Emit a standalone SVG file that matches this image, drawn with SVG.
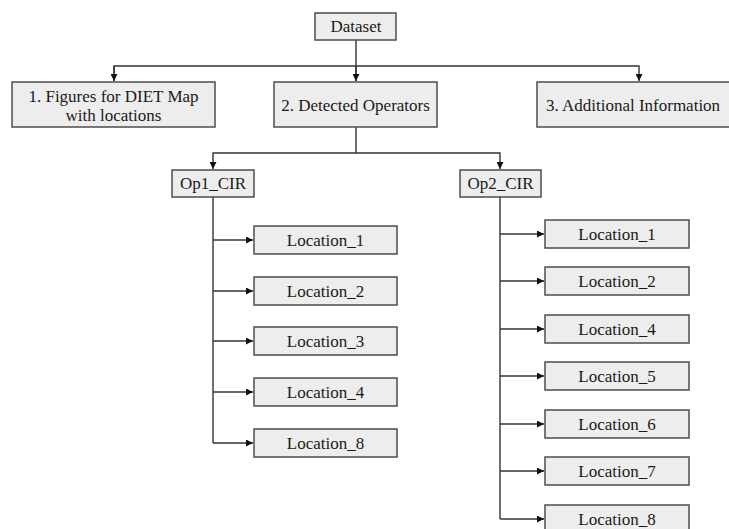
<svg xmlns="http://www.w3.org/2000/svg" width="729" height="529" viewBox="0 0 729 529">
<style>
.box{fill:#ededed;stroke:#4d4d4d;stroke-width:1.5}
.t{font-family:'Liberation Serif','DejaVu Serif',serif;font-size:17px;fill:#1a1a1a;text-anchor:middle}
.c{fill:none;stroke:#333;stroke-width:1.4}
</style>
<defs>
<marker id="ah" viewBox="0 0 10 10" refX="10" refY="5" markerWidth="8" markerHeight="7" markerUnits="userSpaceOnUse" orient="auto">
<path d="M0,0 L10,5 L0,10 z" fill="#111"/>
</marker>
</defs>
<rect width="729" height="529" fill="#fff"/>
<g id="connectors">
<path class="c" d="M356,40 V81"/>
<path class="c" d="M114,81 V66 H639 V81" marker-end="url(#ah)"/>
<path class="c" d="M114,66 V81" marker-end="url(#ah)"/>
<path class="c" d="M356,66 V81" marker-end="url(#ah)"/>
<path class="c" d="M356,127 V153 H500 V169" marker-end="url(#ah)"/>
<path class="c" d="M356,153 H213 V169" marker-end="url(#ah)"/>
<path class="c" d="M213,197 V443"/>
<path class="c" d="M213,240 H253" marker-end="url(#ah)"/>
<path class="c" d="M213,291 H253" marker-end="url(#ah)"/>
<path class="c" d="M213,341 H253" marker-end="url(#ah)"/>
<path class="c" d="M213,392 H253" marker-end="url(#ah)"/>
<path class="c" d="M213,443 H253" marker-end="url(#ah)"/>
<path class="c" d="M500,197 V519"/>
<path class="c" d="M500,234 H544" marker-end="url(#ah)"/>
<path class="c" d="M500,281 H544" marker-end="url(#ah)"/>
<path class="c" d="M500,329 H544" marker-end="url(#ah)"/>
<path class="c" d="M500,376 H544" marker-end="url(#ah)"/>
<path class="c" d="M500,424 H544" marker-end="url(#ah)"/>
<path class="c" d="M500,471 H544" marker-end="url(#ah)"/>
<path class="c" d="M500,519 H544" marker-end="url(#ah)"/>
</g>
<g id="dataset"><rect class="box" x="315" y="13" width="81" height="27"/><text class="t" x="356" y="32">Dataset</text></g>
<g id="figures"><rect class="box" x="12" y="82" width="203" height="45"/><text class="t" x="113.5" y="102">1. Figures for DIET Map</text><text class="t" x="113.5" y="121">with locations</text></g>
<g id="detected"><rect class="box" x="274" y="82" width="163" height="45"/><text class="t" x="355.5" y="110.5">2. Detected Operators</text></g>
<g id="additional"><rect class="box" x="537" y="82" width="200" height="45"/><text class="t" x="633" y="110.5">3. Additional Information</text></g>
<g id="op1"><rect class="box" x="172" y="170" width="82" height="27"/><text class="t" x="213" y="189">Op1_CIR</text></g>
<g id="op2"><rect class="box" x="460" y="170" width="81" height="27"/><text class="t" x="500.5" y="189">Op2_CIR</text></g>
<g id="op1_loc1"><rect class="box" x="254" y="226" width="143" height="28"/><text class="t" x="325.5" y="245.5">Location_1</text></g>
<g id="op1_loc2"><rect class="box" x="254" y="277" width="143" height="28"/><text class="t" x="325.5" y="296.5">Location_2</text></g>
<g id="op1_loc3"><rect class="box" x="254" y="327" width="143" height="28"/><text class="t" x="325.5" y="346.5">Location_3</text></g>
<g id="op1_loc4"><rect class="box" x="254" y="378" width="143" height="28"/><text class="t" x="325.5" y="397.5">Location_4</text></g>
<g id="op1_loc8"><rect class="box" x="254" y="429" width="143" height="28"/><text class="t" x="325.5" y="448.5">Location_8</text></g>
<g id="op2_loc1"><rect class="box" x="545" y="220" width="144" height="28"/><text class="t" x="617" y="239.5">Location_1</text></g>
<g id="op2_loc2"><rect class="box" x="545" y="267" width="144" height="28"/><text class="t" x="617" y="286.5">Location_2</text></g>
<g id="op2_loc4"><rect class="box" x="545" y="315" width="144" height="28"/><text class="t" x="617" y="334.5">Location_4</text></g>
<g id="op2_loc5"><rect class="box" x="545" y="362" width="144" height="28"/><text class="t" x="617" y="381.5">Location_5</text></g>
<g id="op2_loc6"><rect class="box" x="545" y="410" width="144" height="28"/><text class="t" x="617" y="429.5">Location_6</text></g>
<g id="op2_loc7"><rect class="box" x="545" y="457" width="144" height="28"/><text class="t" x="617" y="476.5">Location_7</text></g>
<g id="op2_loc8"><rect class="box" x="545" y="505" width="144" height="28"/><text class="t" x="617" y="524.5">Location_8</text></g>
</svg>
